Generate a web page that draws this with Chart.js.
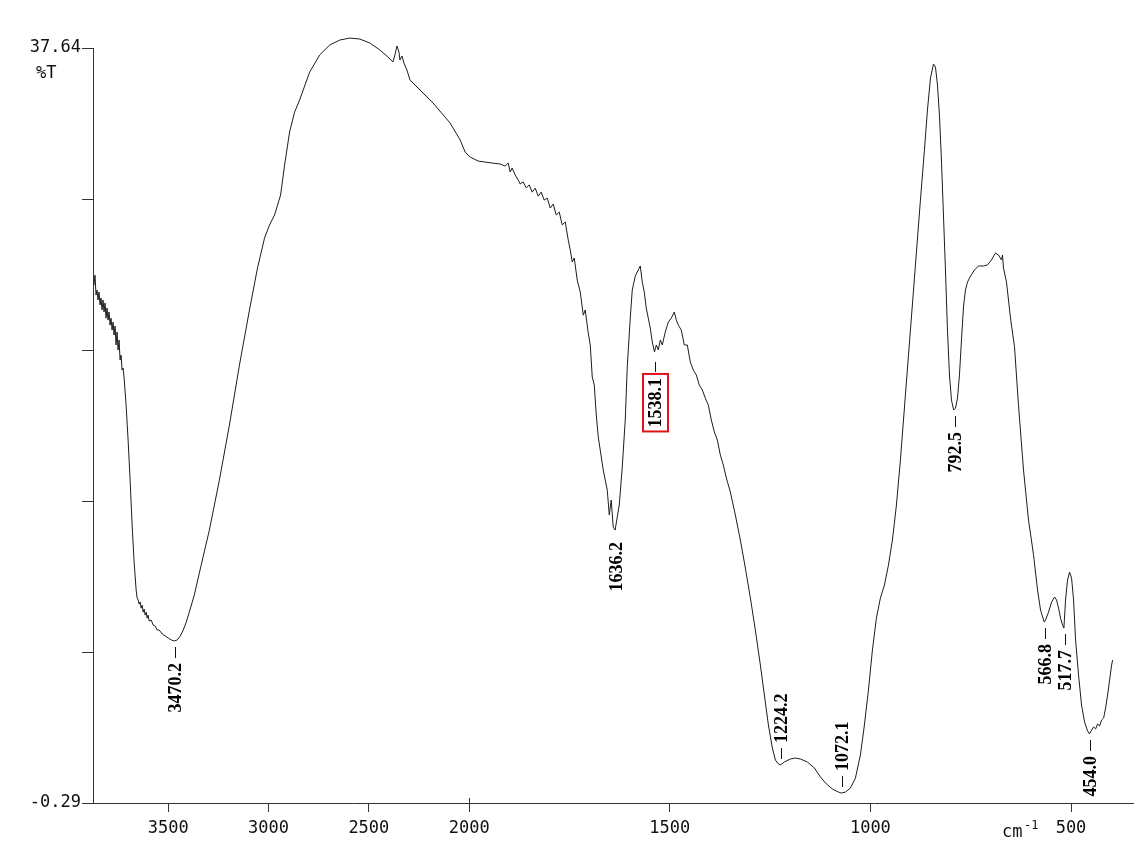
<!DOCTYPE html>
<html>
<head>
<meta charset="utf-8">
<title>FT-IR spectrum</title>
<script src="https://cdn.jsdelivr.net/npm/chart.js@4.4.1/dist/chart.umd.min.js"></script>
<style>
  html, body { margin: 0; padding: 0; background: #ffffff; }
  canvas { display: block; }
</style>
</head>
<body>
<canvas id="spectrum" width="1134" height="846"></canvas>
<script>
// Wavenumber (cm-1) of each sampled point, high to low
const WAVENUMBER = [
  3870, 3865, 3860, 3855, 3850, 3845, 3840, 3835, 3830, 3825, 3820, 3815, 3810, 3805, 3800,
  3795, 3790, 3785, 3780, 3775, 3770, 3765, 3760, 3755, 3750, 3745, 3740, 3735, 3730, 3725,
  3720, 3710, 3700, 3690, 3680, 3670, 3660, 3655, 3650, 3645, 3640, 3635, 3630, 3625, 3620,
  3615, 3610, 3605, 3600, 3595, 3585, 3575, 3565, 3555, 3545, 3530, 3515, 3500, 3485, 3470.2,
  3455, 3440, 3425, 3410, 3395, 3370, 3345, 3295, 3245, 3195, 3145, 3095, 3055, 3020, 2995,
  2970, 2955, 2940, 2920, 2895, 2870, 2845, 2795, 2745, 2695, 2645, 2595, 2545, 2495, 2445,
  2405, 2380, 2370, 2360, 2350, 2345, 2335, 2325, 2310, 2295, 2245, 2180, 2095, 2045, 2020,
  1997.5, 1977.6, 1960.1, 1942.7, 1922.7, 1910.2, 1902.7, 1897.8, 1892.8, 1885.3, 1877.8, 1872.8, 1865.3, 1857.8, 1850.3,
  1842.9, 1835.4, 1827.9, 1820.4, 1812.9, 1805.4, 1797.9, 1790.5, 1783.0, 1775.5, 1768.0, 1760.5, 1753.0, 1748.0, 1743.0,
  1738.1, 1730.6, 1723.1, 1715.6, 1710.7, 1703.2, 1698.2, 1693.2, 1688.2, 1683.2, 1678.2, 1673.3, 1665.8, 1655.8, 1650.8,
  1645.9, 1640.9, 1636.2, 1630.9, 1625.9, 1618.4, 1611.0, 1606.0, 1598.5, 1593.5, 1586.0, 1578.5, 1573.5, 1568.5, 1563.6,
  1558.6, 1553.6, 1548.6, 1543.6, 1538.1, 1533.6, 1528.6, 1523.6, 1518.7, 1511.2, 1503.7, 1496.2, 1488.7, 1483.7, 1478.7,
  1471.3, 1463.8, 1456.3, 1448.8, 1441.3, 1433.8, 1426.4, 1418.9, 1411.4, 1403.9, 1396.4, 1388.9, 1381.4, 1374.0, 1366.5,
  1359.0, 1349.0, 1336.6, 1324.1, 1311.6, 1299.1, 1286.7, 1274.2, 1264.2, 1254.2, 1244.3, 1236.8, 1229.3, 1224.2, 1214.4,
  1199.4, 1187.0, 1174.5, 1157.1, 1139.6, 1124.7, 1109.7, 1094.7, 1079.7, 1072.1, 1062.3, 1049.8, 1037.3, 1024.9, 1014.9,
  1004.9, 994.9, 985.0, 975.0, 965.0, 955.0, 945.1, 935.1, 925.2, 912.7, 900.2, 887.7, 875.3, 865.3, 857.8,
  850.3, 842.8, 837.8, 832.8, 827.9, 822.9, 817.9, 812.9, 807.9, 802.9, 797.9, 792.5, 787.9, 782.9, 778.0,
  773.0, 768.0, 763.0, 758.0, 750.5, 740.5, 730.6, 718.1, 708.1, 698.2, 688.2, 680.7, 673.2, 670.8, 668.3,
  660.8, 650.8, 640.8, 630.9, 618.4, 605.9, 593.4, 583.4, 575.9, 566.8, 563.5, 556.0, 548.5, 541.0, 536.0,
  531.0, 526.1, 521.1, 517.7, 513.6, 508.6, 503.6, 498.6, 493.6, 488.6, 481.2, 473.7, 466.2, 458.7, 454.0,
  448.7, 443.7, 438.7, 433.7, 428.7, 423.7, 418.7, 413.8, 408.8, 403.8, 398.8, 396.3
];

// Transmittance (%T) at each wavenumber above
const TRANSMITTANCE = [
  25.73, 26.23, 25.23, 25.48, 24.98, 25.38, 24.73, 25.08, 24.48, 24.98, 24.38, 24.83, 24.07, 24.58, 23.97,
  24.38, 23.72, 24.07, 23.47, 23.87, 23.22, 23.67, 22.72, 23.37, 22.47, 22.97, 21.96, 22.21, 21.46, 21.56,
  21.06, 19.70, 17.94, 15.93, 13.67, 11.81, 10.41, 10.01, 9.91, 9.70, 9.81, 9.50, 9.65, 9.30, 9.45,
  9.15, 9.30, 9.00, 9.15, 8.85, 8.90, 8.65, 8.60, 8.40, 8.40, 8.20, 8.10, 8.00, 7.90, 7.85,
  7.90, 8.10, 8.40, 8.80, 9.30, 10.16, 11.26, 13.42, 15.93, 18.70, 21.71, 24.48, 26.59, 28.09, 28.75,
  29.25, 29.75, 30.25, 31.76, 33.42, 34.42, 35.03, 36.43, 37.29, 37.79, 38.04, 38.14, 38.09, 37.89, 37.54,
  37.19, 36.94, 37.29, 37.74, 37.44, 37.04, 37.24, 36.88, 36.53, 36.03, 35.53, 34.88, 33.87, 33.02, 32.41,
  32.16, 31.96, 31.91, 31.86, 31.81, 31.71, 31.86, 31.41, 31.61, 31.26, 31.01, 30.81, 30.91, 30.61, 30.76,
  30.40, 30.60, 30.20, 30.40, 30.00, 30.10, 29.60, 29.80, 29.25, 29.40, 28.75, 28.90, 27.99, 27.49, 26.89,
  27.09, 25.98, 25.38, 24.22, 24.48, 23.32, 22.72, 21.11, 20.71, 19.20, 18.09, 17.44, 16.44, 15.43, 14.18,
  14.93, 13.57, 13.42, 14.08, 14.68, 16.59, 18.95, 21.61, 24.07, 25.48, 26.18, 26.49, 26.69, 25.88, 25.38,
  24.58, 24.07, 23.57, 22.87, 22.37, 22.72, 22.47, 22.97, 22.72, 23.37, 23.87, 24.07, 24.38, 23.97, 23.72,
  23.47, 22.72, 22.72, 21.86, 21.46, 21.21, 20.71, 20.46, 20.05, 19.70, 18.95, 18.35, 17.94, 17.19, 16.69,
  16.04, 15.33, 14.18, 12.92, 11.51, 10.01, 8.40, 6.64, 5.13, 3.63, 2.47, 1.87, 1.67, 1.62, 1.77,
  1.92, 1.97, 1.92, 1.77, 1.47, 1.02, 0.67, 0.41, 0.26, 0.21, 0.26, 0.46, 0.96, 2.12, 3.63,
  5.38, 7.40, 9.00, 10.01, 10.66, 11.66, 12.92, 14.68, 16.94, 20.21, 23.47, 26.74, 30.00, 32.51, 34.52,
  36.13, 36.83, 36.68, 35.78, 34.27, 32.01, 29.25, 26.49, 23.47, 21.21, 19.95, 19.45, 19.55, 20.05, 21.21,
  22.97, 24.63, 25.48, 25.88, 26.18, 26.49, 26.69, 26.69, 26.74, 26.99, 27.34, 27.24, 26.99, 27.24, 26.59,
  25.88, 24.07, 22.63, 19.70, 16.44, 13.92, 12.18, 10.41, 9.40, 8.80, 8.90, 9.30, 9.80, 10.06, 9.91,
  9.50, 9.00, 8.65, 8.50, 9.91, 10.91, 11.31, 11.01, 9.91, 7.89, 6.14, 4.63, 3.78, 3.33, 3.18,
  3.37, 3.53, 3.43, 3.68, 3.58, 3.88, 3.98, 4.48, 5.13, 5.88, 6.64, 6.89
];

// Labelled band positions (cm-1)
const PEAKS = [3470.2, 1636.2, 1538.1, 1224.2, 1072.1, 792.5, 566.8, 517.7, 454.0];

// Axis ticks
const X_TICKS = [3500, 3000, 2500, 2000, 1500, 1000, 500];
const Y_MIN = -0.29;
const Y_MAX = 37.64;
const Y_TICKS = [-0.29, 7.296, 14.882, 22.468, 30.054, 37.64];
const Y_TICK_LABELS = ['-0.29', '', '', '', '', '37.64'];

// Wavenumber axis: above the break the scale is compressed by a factor of two
const BREAK_AT = 2000;
const COMPRESSION = 2;

class BreakScale extends Chart.LinearScale {
  static id = 'break';
  static defaults = {};
  fold(v) { return v > BREAK_AT ? BREAK_AT + (v - BREAK_AT) / COMPRESSION : v; }
  unfold(u) { return u > BREAK_AT ? BREAK_AT + (u - BREAK_AT) * COMPRESSION : u; }
  getPixelForValue(v) {
    if (v === null || v === undefined || isNaN(v)) return NaN;
    const a = this.fold(this.min), b = this.fold(this.max);
    return this.getPixelForDecimal((this.fold(v) - a) / (b - a));
  }
  getValueForPixel(p) {
    const a = this.fold(this.min), b = this.fold(this.max);
    return this.unfold(a + this.getDecimalForPixel(p) * (b - a));
  }
}
Chart.register(BreakScale);

const points = WAVENUMBER.map((w, i) => ({ x: w, y: TRANSMITTANCE[i] }));

const MONO = '"DejaVu Sans Mono", "Liberation Mono", monospace';

// Peak labels, axis captions and the break marker
const annotations = {
  id: 'annotations',
  afterDraw(chart) {
    const ctx = chart.ctx;
    const xs = chart.scales.x, ys = chart.scales.y;
    const above = { '1224.2': true, '1072.1': true };
    const noDash = { '1636.2': true };
    const boxed = { '1538.1': true };

    ctx.save();
    // ordinate caption
    ctx.fillStyle = '#111';
    ctx.font = '17px ' + MONO;
    ctx.textAlign = 'left';
    ctx.textBaseline = 'alphabetic';
    ctx.fillText('%T', 36, 78);

    // abscissa unit
    ctx.fillText('cm', 1002, 837);
    ctx.font = '12px ' + MONO;
    ctx.fillText('-1', 1024, 829);

    // break marker at 2000 cm-1
    const bx = Math.round(xs.getPixelForValue(BREAK_AT)) + 0.5;
    ctx.strokeStyle = '#333';
    ctx.lineWidth = 1;
    ctx.beginPath();
    ctx.moveTo(bx, ys.bottom - 5);
    ctx.lineTo(bx, ys.bottom);
    ctx.stroke();

    // band labels
    ctx.font = 'bold 18px "Liberation Serif", "Times New Roman", serif';
    ctx.textBaseline = 'middle';
    PEAKS.forEach(nu => {
      const idx = WAVENUMBER.indexOf(nu);
      const t = TRANSMITTANCE[idx];
      const px = Math.round(xs.getPixelForValue(nu)) + 0.5;
      const py = ys.getPixelForValue(t);
      const key = nu.toFixed(1);
      const label = key;
      const w = ctx.measureText(label).width;
      const isAbove = !!above[key];
      const isBoxed = !!boxed[key];
      const dashStart = isBoxed ? 10 : 6;
      const dashEnd = isBoxed ? 20 : 17;
      const gap = isBoxed ? 26 : (noDash[key] ? 12 : 22);
      const dir = isAbove ? -1 : 1;

      ctx.strokeStyle = '#111';
      ctx.lineWidth = 1;
      if (!noDash[key]) {
        ctx.beginPath();
        ctx.moveTo(px + 1, py + dir * dashStart);
        ctx.lineTo(px + 1, py + dir * dashEnd);
        ctx.stroke();
      }

      const start = py + dir * gap;
      ctx.save();
      ctx.translate(px + 1, start);
      ctx.rotate(-Math.PI / 2);
      ctx.fillStyle = '#000';
      ctx.textAlign = isAbove ? 'left' : 'right';
      ctx.fillText(label, 0, 1);
      ctx.restore();

      if (isBoxed) {
        ctx.strokeStyle = '#e3121b';
        ctx.lineWidth = 2;
        ctx.strokeRect(px - 11.5, start - 4, 25, w + 8);
      }
    });
    ctx.restore();
  }
};

new Chart(document.getElementById('spectrum'), {
  type: 'line',
  data: {
    datasets: [{
      data: points,
      borderColor: '#1c1c1c',
      borderWidth: 1,
      pointRadius: 0,
      tension: 0,
      fill: false,
      clip: false
    }]
  },
  options: {
    responsive: false,
    animation: false,
    devicePixelRatio: 1,
    layout: { padding: { top: 48, left: 0, right: 0, bottom: 0 }, autoPadding: false },
    plugins: { legend: { display: false }, tooltip: { enabled: false }, title: { display: false } },
    scales: {
      x: {
        type: 'break',
        position: 'bottom',
        min: 343,
        max: 3875,
        reverse: true,
        afterBuildTicks: s => { s.ticks = X_TICKS.map(v => ({ value: v })); },
        afterFit: s => { s.height = 43; },
        ticks: {
          color: '#111',
          font: { family: MONO, size: 17 },
          padding: 6,
          maxRotation: 0,
          autoSkip: false,
          callback: v => String(v)
        },
        grid: { drawOnChartArea: false, drawTicks: true, tickLength: 9, color: '#333', lineWidth: 1 },
        border: { display: true, color: '#333', width: 1 }
      },
      y: {
        type: 'linear',
        min: Y_MIN,
        max: Y_MAX,
        afterBuildTicks: s => { s.ticks = Y_TICKS.map(v => ({ value: v })); },
        afterFit: s => { s.width = 93; },
        ticks: {
          color: '#111',
          font: { family: MONO, size: 17 },
          padding: 1,
          autoSkip: false,
          callback: (v, i) => Y_TICK_LABELS[i]
        },
        grid: { drawOnChartArea: false, drawTicks: true, tickLength: 11, color: '#333', lineWidth: 1 },
        border: { display: true, color: '#333', width: 1 }
      }
    }
  },
  plugins: [annotations]
});
</script>
</body>
</html>
